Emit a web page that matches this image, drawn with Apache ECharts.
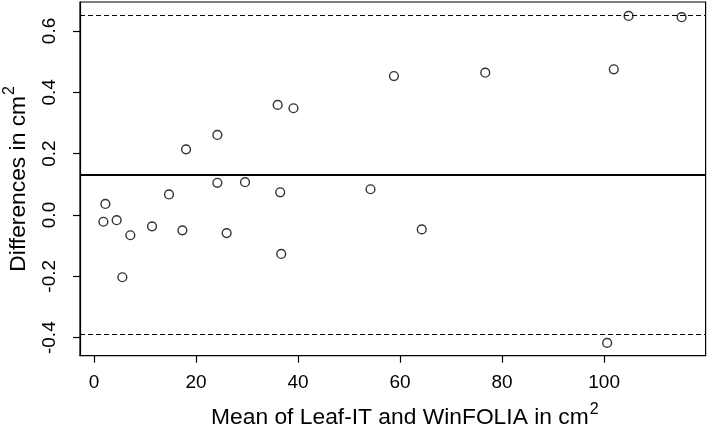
<!DOCTYPE html>
<html>
<head>
<meta charset="utf-8">
<script src="https://cdn.jsdelivr.net/npm/echarts@6/dist/echarts.min.js"></script>
<style>
html,body{margin:0;padding:0;background:#fff;}
#chart{width:709px;height:433px;}
</style>
</head>
<body>
<div id="chart"></div>
<script>
// Mean of the two methods (cm^2)
var meanX = [1.83, 2.22, 4.44, 5.56, 7.12, 11.37, 14.7, 17.32, 18.04, 24.18, 24.18, 26.0, 29.6,
             36.0, 36.5, 36.7, 39.1, 54.2, 58.8, 64.25, 76.7, 100.6, 101.9, 104.8, 115.2];
// Differences (cm^2)
var diffY = [-0.022, 0.036, -0.017, -0.203, -0.066, -0.037, 0.067, -0.050, 0.214, 0.261, 0.105, -0.059, 0.107,
             0.359, 0.074, -0.127, 0.348, 0.084, 0.453, -0.047, 0.464, -0.417, 0.475, 0.649, 0.645];
// Bias and limits of agreement
var meanDiff = 0.134;
var upperLoA = 0.653;
var lowerLoA = -0.390;
// Tick labels
var xTicks = [0, 20, 40, 60, 80, 100];
var yTicks = [-0.4, -0.2, 0.0, 0.2, 0.4, 0.6];
var xRange = [-2.75, 119.9];
var yRange = [-0.4588, 0.6945];

var points = meanX.map(function (x, i) { return [x, diffY[i]]; });

var font = 'Liberation Sans, Arial, Helvetica, sans-serif';
var supStyle = {fontSize: 16, verticalAlign: 'top', lineHeight: 16, color: '#000', fontFamily: font, padding: [0, 0, 0, 1]};
var chart = echarts.init(document.getElementById('chart'), null, {renderer: 'canvas'});
chart.setOption({
  animation: false,
  backgroundColor: '#fff',
  grid: {left: 80, top: 2, right: 3.4, bottom: 77.3, show: true, borderColor: '#000', borderWidth: 1.2,
    backgroundColor: 'transparent', containLabel: false, outerBoundsMode: 'none'},
  xAxis: {
    type: 'value', min: xRange[0], max: xRange[1],
    name: '{main|Mean of Leaf-IT and WinFOLIA in cm}{sup|2}',
    nameLocation: 'middle', nameGap: 46,
    nameTextStyle: {fontSize: 22.8, color: '#000', fontFamily: font, padding: [0, 0, 0, 24],
      rich: {main: {fontSize: 22.8, lineHeight: 28, verticalAlign: 'bottom', color: '#000', fontFamily: font}, sup: supStyle}},
    axisLine: {show: true, onZero: false, lineStyle: {color: '#000', width: 1.2}},
    axisTick: {show: true, length: 7, customValues: xTicks, lineStyle: {color: '#000', width: 1.2}},
    axisLabel: {show: true, customValues: xTicks, fontSize: 19, color: '#000', fontFamily: font, margin: 18,
      formatter: function (v) { return String(Math.round(v)); }},
    splitLine: {show: false}
  },
  yAxis: {
    type: 'value', min: yRange[0], max: yRange[1],
    name: '{main|Differences in cm}{sup|2}',
    nameLocation: 'middle', nameGap: 50,
    nameTextStyle: {fontSize: 22.8, color: '#000', fontFamily: font,
      rich: {main: {fontSize: 22.8, lineHeight: 28, verticalAlign: 'bottom', color: '#000', fontFamily: font}, sup: supStyle}},
    axisLine: {show: true, onZero: false, lineStyle: {color: '#000', width: 1.2}},
    axisTick: {show: true, length: 7, customValues: yTicks, lineStyle: {color: '#000', width: 1.2}},
    axisLabel: {show: true, customValues: yTicks, rotate: 90, fontSize: 19, color: '#000', fontFamily: font, margin: 21,
      formatter: function (v) { return (Math.round(v * 10) / 10).toFixed(1); }},
    splitLine: {show: false}
  },
  series: [{
    type: 'scatter',
    data: points,
    symbol: 'circle',
    symbolSize: 8.8,
    itemStyle: {color: 'none', borderColor: '#000', borderWidth: 1.4},
    markLine: {
      silent: true,
      symbol: ['none', 'none'],
      label: {show: false},
      data: [
        {yAxis: meanDiff, lineStyle: {color: '#000', type: 'solid', width: 2.2}},
        {yAxis: upperLoA, lineStyle: {color: '#000', type: [5, 3], width: 1.2}},
        {yAxis: lowerLoA, lineStyle: {color: '#000', type: [5, 3], width: 1.2}}
      ]
    },
    z: 3
  }]
});
</script>
</body>
</html>
